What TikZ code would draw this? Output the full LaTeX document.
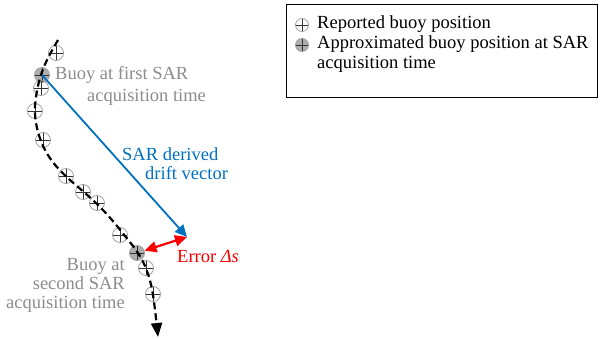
\documentclass[tikz,border=0pt]{standalone}
\usepackage{fontspec}
\setmainfont{Liberation Serif}
\usetikzlibrary{arrows.meta}
\definecolor{lblgray}{RGB}{140,140,140}
\definecolor{sarblue}{RGB}{0,112,192}
\definecolor{markgray}{RGB}{160,160,160}
\begin{document}
\begin{tikzpicture}[x=1pt,y=-1pt,
  buoy/.style={circle,draw=markgray,line width=0.8pt,minimum size=15pt,inner sep=0pt,
    path picture={\draw[black!80,line width=0.7pt]
      (path picture bounding box.north) -- (path picture bounding box.south)
      (path picture bounding box.west) -- (path picture bounding box.east);}},
  buoyfix/.style={buoy,fill=markgray!85},
  lbl/.style={font=\fontsize{18.5}{21}\selectfont,inner sep=0pt},
  graylbl/.style={lbl,text=lblgray},
  bluelbl/.style={lbl,text=sarblue},
  track/.style={black,line width=2.2pt,dash pattern=on 7pt off 4pt,
    -{Triangle[length=14pt,width=11pt]}},
  sartip/.tip={Triangle[length=12pt,width=11pt]}
]
\useasboundingbox (0,0) rectangle (601,339);

% legend
\node[draw=black,line width=1.4pt,minimum width=311pt,minimum height=93pt,anchor=north west,inner sep=0pt] (legend) at (286,4) {};
\node[buoy,minimum size=13pt] (lg1) at (302,25) {};
\node[buoyfix,minimum size=13pt] (lg2) at (302,45) {};
\node[lbl,anchor=base west] (lt1) at (317,29) {Reported buoy position};
\node[lbl,anchor=base west] (lt2) at (317,49) {Approximated buoy position at SAR};
\node[lbl,anchor=base west] (lt3) at (317,69) {acquisition time};

% buoy markers
\node[buoy] (b1) at (56,53) {};
\node[buoyfix] (b2) at (42,75) {};
\node[buoy] (b3) at (41,88) {};
\node[buoy] (b4) at (35,111) {};
\node[buoy] (b5) at (43,140) {};
\node[buoy] (b6) at (66,176) {};
\node[buoy] (b7) at (83,192) {};
\node[buoy] (b8) at (97,203) {};
\node[buoy] (b9) at (120,235) {};
\node[buoyfix] (b10) at (137,253) {};
\node[buoy] (b11) at (146,268) {};
\node[buoy] (b12) at (153,294) {};

% drift track
\draw[track] plot[smooth,tension=0.6] coordinates {(58,40) (47,60) (40,78) (36,97) (35,114) (38,132) (45,150) (56,166) (70,180) (85,193) (99,206) (112,220) (125,236) (138,253) (147,271) (153,295) (158,337)};

% vectors
\coordinate (errend) at (187,237);
\draw[sarblue,line width=1.8pt,-{sartip}] (b2.center) -- (errend);
\draw[red,line width=2.2pt,{sartip}-{sartip}] (b10) -- (errend);

% labels
\node[graylbl,anchor=base west] (f1) at (55,80) {Buoy at first SAR};
\node[graylbl,anchor=base west] (f2) at (87,102) {acquisition time};
\node[bluelbl,anchor=base west] (s1) at (122,160) {SAR derived};
\node[bluelbl,anchor=base west] (s2) at (145,179) {drift vector};
\node[lbl,text=red,anchor=base west] (err) at (177,262) {Error \textit{Δs}};
\node[graylbl,anchor=base east] (g1) at (125,270) {Buoy at};
\node[graylbl,anchor=base east] (g2) at (125,289) {second SAR};
\node[graylbl,anchor=base east] (g3) at (125,308) {acquisition time};
\end{tikzpicture}
\end{document}
